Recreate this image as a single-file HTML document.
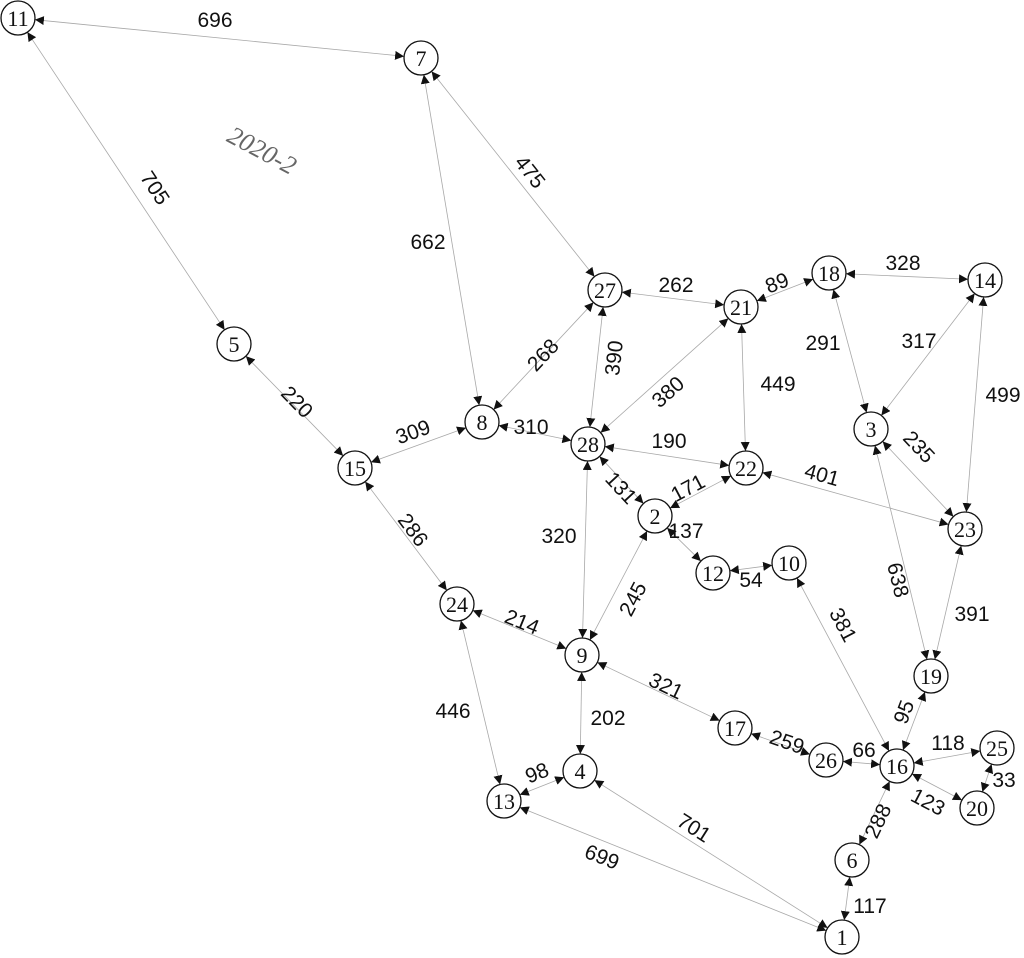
<!DOCTYPE html>
<html><head><meta charset="utf-8"><style>
html,body{margin:0;padding:0;background:#fff;width:1024px;height:958px;overflow:hidden}
svg{display:block}
.nl{font-family:"Liberation Serif",serif;font-size:22px;fill:#111}
.el{font-family:"Liberation Sans",sans-serif;font-size:21px;fill:#111}
</style></head><body>
<svg id="g" width="1024" height="958" viewBox="0 0 1024 958">
<defs><marker id="ar" viewBox="0 0 10 10" refX="10" refY="5" markerWidth="9" markerHeight="9" markerUnits="userSpaceOnUse" orient="auto-start-reverse"><path d="M0,0L10,5L0,10z" fill="#111"/></marker></defs>
<text x="258" y="158" transform="rotate(28 258 158)" text-anchor="middle" font-family="Liberation Serif, serif" font-style="italic" font-size="26" fill="#666">2020-2</text>
</svg>
<script>
const nodeIds=[11,7,5,15,8,27,21,18,14,28,22,3,23,2,12,10,24,9,19,17,26,16,25,20,4,13,6,1];
const nodeX=[18,421,234,355,482,605,741,829,985,588,746,871,965,655,713,789,457,582,931,735,826,897,997,977,580,504,852,842];
const nodeY=[18,58,344,468,422,290,307,273,280,444,468,429,529,516,573,563,604,655,676,728,760,766,748,808,771,801,860,937];
const edgeFrom=[11,11,7,7,27,21,18,18,14,14,27,27,21,21,5,15,8,28,28,2,22,3,2,12,15,24,9,28,3,23,10,9,9,24,13,4,13,17,26,16,16,16,25,16,6];
const edgeTo=[7,5,27,8,21,18,14,3,3,23,8,28,28,22,15,8,28,22,2,22,23,23,12,10,24,9,2,9,19,19,16,17,4,13,4,1,1,26,16,19,25,20,20,6,1];
const edgeWeights=[696,705,475,662,262,89,328,291,317,499,268,390,380,449,220,309,310,190,131,171,401,235,137,54,286,214,245,320,638,391,381,321,202,446,98,701,699,259,66,95,118,123,33,288,117];
const labelX=[215,155,530,428,676,777,903,823,919,1003,543,614,668,778,297,413,531,669,621,688,822,919,686,751,413,522,633,559,898,972,843,666,608,453,537,694,602,787,864,904,948,928,1004,878,870];
const labelY=[20,188,172,242,285,283,263,343,341,395,355,358,392,384,402,432,427,441,488,488,475,447,531,580,530,622,599,536,580,614,625,686,718,711,773,828,857,742,750,712,743,802,780,821,906];
const labelRot=[0,1,1,0,0,1,0,0,0,0,1,1,1,0,1,1,0,0,1,1,1,1,0,0,1,1,1,0,1,0,1,1,0,0,1,1,1,1,0,1,0,1,0,1,0];
const NS="http://www.w3.org/2000/svg",svg=document.getElementById('g'),R=17;
function pos(id){const i=nodeIds.indexOf(id);return[nodeX[i],nodeY[i]];}
edgeFrom.forEach((f,i)=>{
 const[a,b]=pos(f),[c,d]=pos(edgeTo[i]);const dx=c-a,dy=d-b,L=Math.hypot(dx,dy),ux=dx/L,uy=dy/L;
 const l=document.createElementNS(NS,'line');
 l.setAttribute('x1',a+ux*R);l.setAttribute('y1',b+uy*R);l.setAttribute('x2',c-ux*R);l.setAttribute('y2',d-uy*R);
 l.setAttribute('stroke','#a8a8a8');l.setAttribute('stroke-width','0.8');
 l.setAttribute('marker-start','url(#ar)');l.setAttribute('marker-end','url(#ar)');
 
 
 svg.appendChild(l);
 const t=document.createElementNS(NS,'text');
 t.setAttribute('class','el');t.setAttribute('x',labelX[i]);t.setAttribute('y',labelY[i]+7);t.setAttribute('text-anchor','middle');
 if(labelRot[i]){let ang=Math.atan2(dy,dx)*180/Math.PI;if(ang>90)ang-=180;if(ang<-90)ang+=180;t.setAttribute('transform','rotate('+ang.toFixed(1)+' '+labelX[i]+' '+labelY[i]+')');}
 t.textContent=edgeWeights[i];
 
 
 svg.appendChild(t);
});
nodeIds.forEach((id,i)=>{
 const g=document.createElementNS(NS,'g');
 
 
 const c=document.createElementNS(NS,'circle');
 c.setAttribute('cx',nodeX[i]);c.setAttribute('cy',nodeY[i]);c.setAttribute('r',R);c.setAttribute('fill','#fff');c.setAttribute('stroke','#111');c.setAttribute('stroke-width','1.3');
 g.appendChild(c);
 const t=document.createElementNS(NS,'text');
 t.setAttribute('class','nl');t.setAttribute('x',nodeX[i]);t.setAttribute('y',nodeY[i]+8);t.setAttribute('text-anchor','middle');t.textContent=id;
 g.appendChild(t);svg.appendChild(g);
});
</script>
</body></html>
